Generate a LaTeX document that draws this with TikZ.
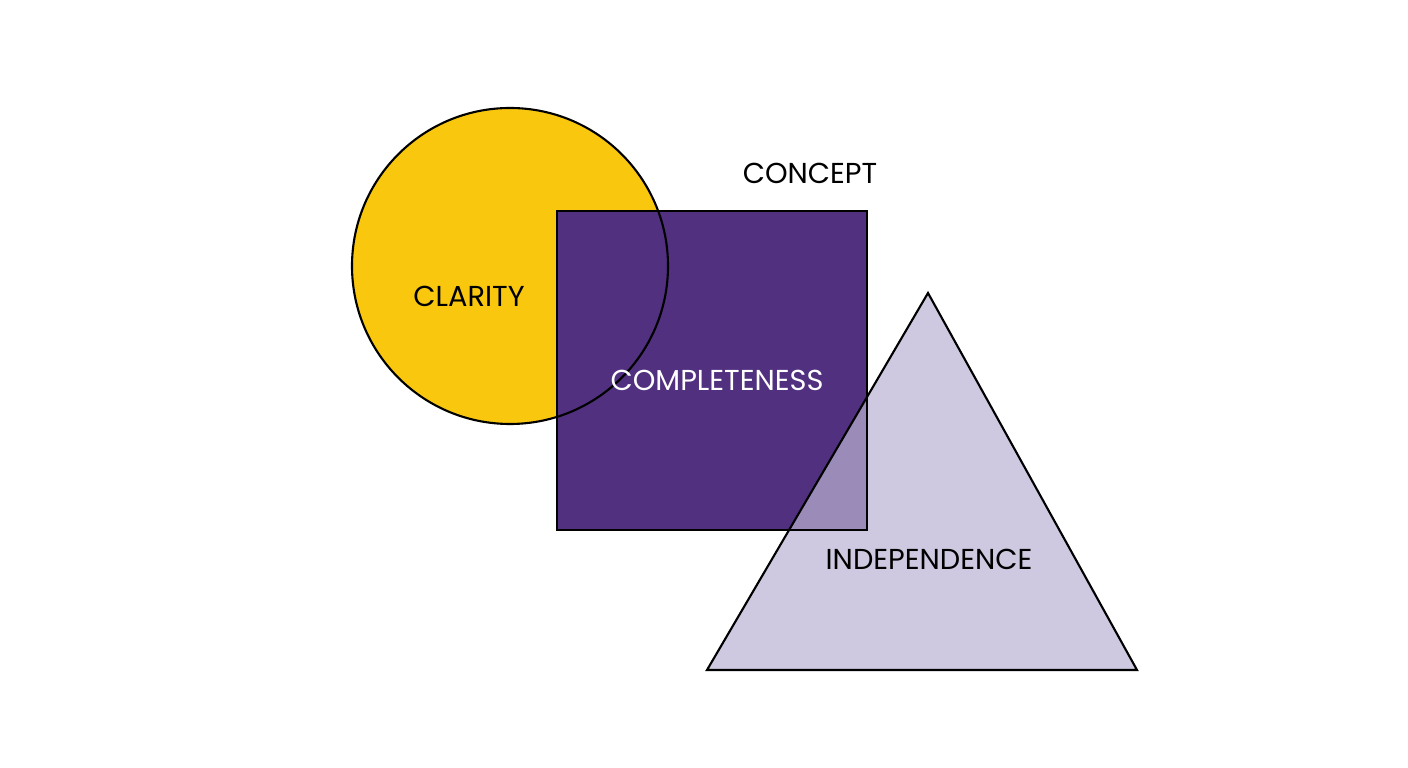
\documentclass[tikz,border=0pt]{standalone}
\usepackage{fontspec}
\setmainfont{Poppins}
\usepackage{tikz}

\definecolor{clarityyellow}{HTML}{F9C80E}
\definecolor{deeppurple}{HTML}{51307F}
\definecolor{lavender}{HTML}{BAB3D3}

\tikzset{
  label/.style={font=\fontsize{8.2}{9}\selectfont},
  outline/.style={draw=black, line width=0.6pt}
}

\begin{document}
\begin{tikzpicture}
\useasboundingbox (0,0) rectangle (14.08,7.68);
\fill[white] (0,0) rectangle (14.08,7.68);
% fills
\fill[clarityyellow] (5.10,5.02) circle (1.58);
\fill[deeppurple] (5.57,2.38) rectangle (8.67,5.57);
\fill[lavender, fill opacity=0.7] (9.28,4.75) -- (7.07,0.98) -- (11.37,0.98) -- cycle;
% outlines
\draw[outline] (5.10,5.02) circle (1.58);
\draw[outline] (5.57,2.38) rectangle (8.67,5.57);
\draw[outline] (9.28,4.75) -- (7.07,0.98) -- (11.37,0.98) -- cycle;
% labels
\node[label] (concept) at (8.10,5.95) {CONCEPT};
\node[label] (clarity) at (4.69,4.72) {CLARITY};
\node[label, text=white] (completeness) at (7.17,3.88) {COMPLETENESS};
\node[label] (independence) at (9.29,2.09) {INDEPENDENCE};
\end{tikzpicture}
\end{document}
